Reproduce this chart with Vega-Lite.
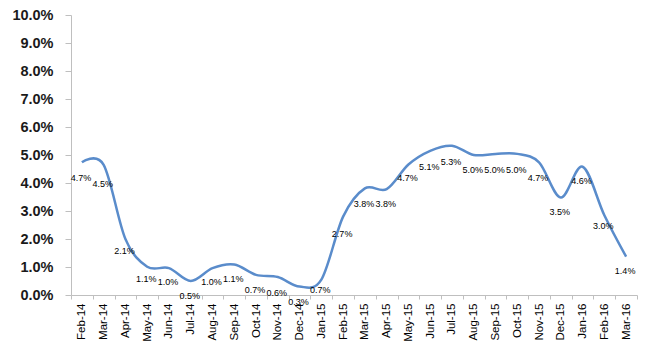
{
  "$schema": "https://vega.github.io/schema/vega-lite/v6.json",
  "autosize": "none",
  "width": 566,
  "height": 280,
  "padding": {"left": 71, "top": 15, "right": 13, "bottom": 59},
  "background": "white",
  "config": {"view": {"stroke": null}, "font": "Liberation Sans", "axis": {"labelOverlap": false}},
  "data": {"values": [
    {"month": "Feb-14", "v": 0.0474, "lv": 0.047},
    {"month": "Mar-14", "v": 0.0465, "lv": 0.045},
    {"month": "Apr-14", "v": 0.0200, "lv": 0.021},
    {"month": "May-14", "v": 0.0101, "lv": 0.011},
    {"month": "Jun-14", "v": 0.0096, "lv": 0.010},
    {"month": "Jul-14", "v": 0.0050, "lv": 0.005},
    {"month": "Aug-14", "v": 0.0096, "lv": 0.010},
    {"month": "Sep-14", "v": 0.0109, "lv": 0.011},
    {"month": "Oct-14", "v": 0.0072, "lv": 0.007},
    {"month": "Nov-14", "v": 0.0064, "lv": 0.006},
    {"month": "Dec-14", "v": 0.0030, "lv": 0.003},
    {"month": "Jan-15", "v": 0.0055, "lv": 0.007},
    {"month": "Feb-15", "v": 0.0280, "lv": 0.027},
    {"month": "Mar-15", "v": 0.0381, "lv": 0.038},
    {"month": "Apr-15", "v": 0.0378, "lv": 0.038},
    {"month": "May-15", "v": 0.0466, "lv": 0.047},
    {"month": "Jun-15", "v": 0.0515, "lv": 0.051},
    {"month": "Jul-15", "v": 0.0533, "lv": 0.053},
    {"month": "Aug-15", "v": 0.0500, "lv": 0.050},
    {"month": "Sep-15", "v": 0.0504, "lv": 0.050},
    {"month": "Oct-15", "v": 0.0504, "lv": 0.050},
    {"month": "Nov-15", "v": 0.0474, "lv": 0.047},
    {"month": "Dec-15", "v": 0.0348, "lv": 0.035},
    {"month": "Jan-16", "v": 0.0458, "lv": 0.046},
    {"month": "Feb-16", "v": 0.0285, "lv": 0.030},
    {"month": "Mar-16", "v": 0.0137, "lv": 0.014}
  ]},
  "encoding": {
    "x": {
      "field": "month", "type": "ordinal", "sort": null, "bandPosition": 0.5,
      "scale": {"type": "band", "paddingInner": 0, "paddingOuter": 0},
      "axis": {
        "title": null, "labelAngle": -90, "labelAlign": "right", "labelBaseline": "middle",
        "labelFontSize": 11.5, "labelColor": "#000000", "labelPadding": 4, "labelOverlap": false,
        "tickBand": "extent", "tickSize": 4, "tickColor": "#bfbfbf",
        "domainColor": "#bfbfbf", "domainWidth": 1, "grid": false
      }
    },
    "y": {
      "type": "quantitative",
      "scale": {"domain": [0, 0.1], "nice": false, "zero": true},
      "axis": {
        "title": null, "format": ".1%",
        "values": [0, 0.01, 0.02, 0.03, 0.04, 0.05, 0.06, 0.07, 0.08, 0.09, 0.1],
        "labelFontSize": 14.5, "labelFontWeight": "bold", "labelColor": "#1a1a1a",
        "labelPadding": 12, "tickSize": 6, "tickColor": "#bfbfbf", "labelOverlap": false,
        "domainColor": "#bfbfbf", "grid": false
      }
    }
  },
  "layer": [
    {
      "mark": {"type": "line", "interpolate": "cardinal", "color": "#5a8ccb", "strokeWidth": 2.5},
      "encoding": {
        "y": {"field": "v"}
      }
    },
    {
      "mark": {"type": "text", "fontSize": 9, "color": "#000000", "dy": 15, "dx": -1, "baseline": "middle", "align": "center"},
      "encoding": {
        "y": {"field": "lv"},
        "text": {"field": "lv", "type": "quantitative", "format": ".1%"}
      }
    }
  ]
}
